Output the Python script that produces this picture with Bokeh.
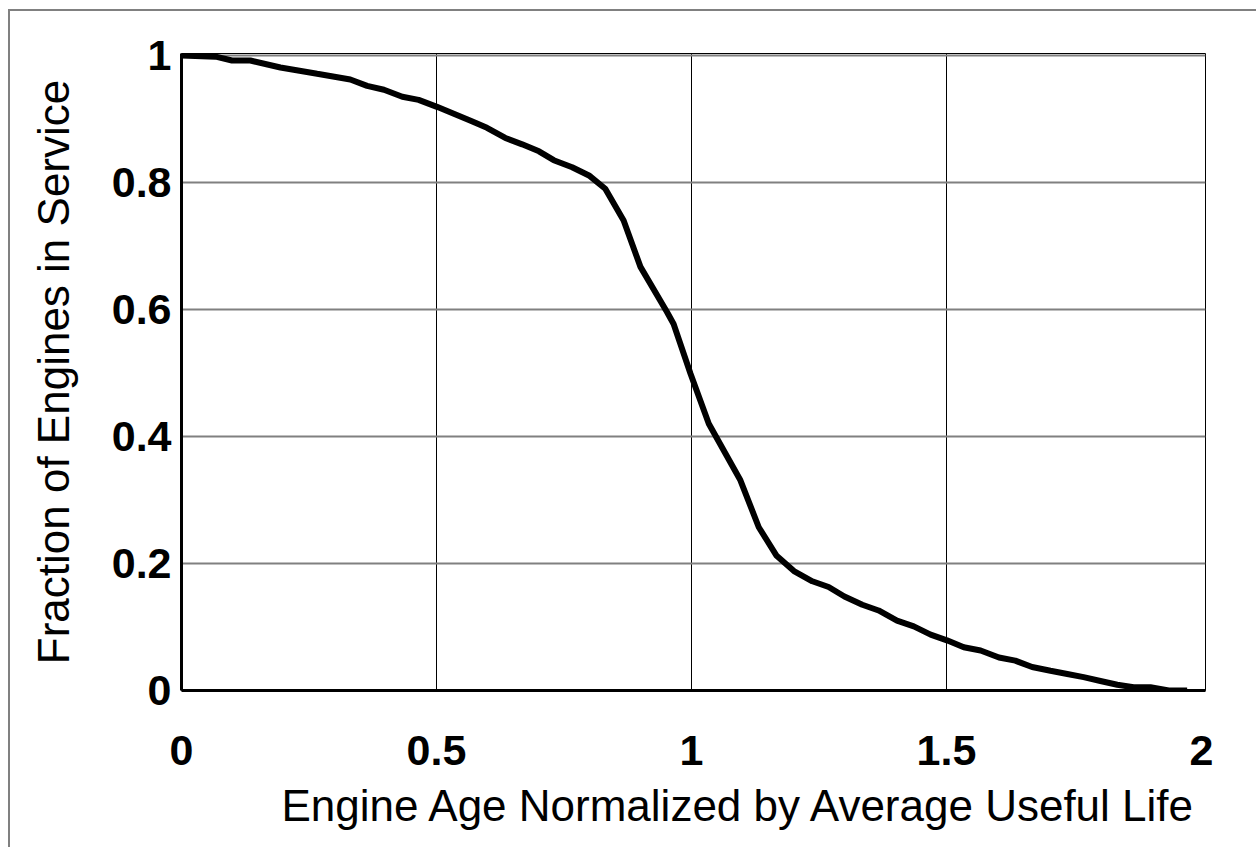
from bokeh.plotting import figure
from bokeh.models import Range1d, FixedTicker, Title
from bokeh.embed import file_html
from bokeh.resources import INLINE

# ---- data ----
age = [0.0, 0.067, 0.099, 0.135, 0.194, 0.266, 0.331, 0.364, 0.397, 0.433,
       0.465, 0.501, 0.534, 0.567, 0.599, 0.635, 0.668, 0.701, 0.730, 0.766,
       0.799, 0.831, 0.867, 0.900, 0.952, 0.965, 0.998, 1.034, 1.096, 1.132,
       1.167, 1.201, 1.237, 1.269, 1.300, 1.335, 1.367, 1.403, 1.436, 1.469,
       1.501, 1.534, 1.567, 1.603, 1.635, 1.668, 1.704, 1.737, 1.769, 1.802,
       1.835, 1.867, 1.900, 1.936, 1.972]
fraction = [1.0, 0.998, 0.992, 0.992, 0.981, 0.971, 0.962, 0.952, 0.946, 0.935,
            0.930, 0.919, 0.908, 0.897, 0.886, 0.870, 0.860, 0.849, 0.835, 0.824,
            0.811, 0.790, 0.740, 0.667, 0.596, 0.577, 0.499, 0.420, 0.331, 0.257,
            0.212, 0.188, 0.172, 0.163, 0.148, 0.135, 0.126, 0.110, 0.101, 0.088,
            0.079, 0.068, 0.063, 0.052, 0.047, 0.037, 0.031, 0.026, 0.021, 0.015,
            0.009, 0.005, 0.005, 0.0, 0.0]

x_ticks = [0, 0.5, 1, 1.5, 2]
x_tick_labels = ["0", "0.5", "1", "1.5", "2"]
y_ticks = [0, 0.2, 0.4, 0.6, 0.8, 1.0]
y_tick_labels = ["0", "0.2", "0.4", "0.6", "0.8", "1"]

x_title = "Engine Age Normalized by Average Useful Life"
y_title = "Fraction of Engines in Service"

FONT = "Liberation Sans"

p = figure(width=1248, height=838, output_backend="svg", toolbar_location=None,
           x_range=Range1d(0, 2.008), y_range=Range1d(0, 1.003),
           min_border_left=171, min_border_right=53, min_border_top=42,
           min_border_bottom=159)
p.styles = {"border-top": "2px solid #808080", "border-left": "2px solid #808080",
            "margin-left": "8px", "margin-top": "9px"}

p.background_fill_color = "white"
p.border_fill_color = "white"
p.outline_line_color = "black"
p.outline_line_width = 1

p.line(age, fraction, line_color="black", line_width=6)

# axes
for ax in (p.xaxis[0], p.yaxis[0]):
    ax.major_tick_out = 0
    ax.major_tick_in = 0
    ax.minor_tick_out = 0
    ax.minor_tick_in = 0
    ax.axis_line_color = "black"
    ax.axis_line_width = 3
    ax.major_label_text_font = FONT
    ax.major_label_text_font_style = "bold"
    ax.major_label_text_font_size = "43px"
    ax.major_label_text_color = "black"

p.xaxis.ticker = FixedTicker(ticks=x_ticks)
p.xaxis.major_label_overrides = {t: l for t, l in zip(x_ticks, x_tick_labels)}
p.xaxis.major_label_standoff = 45

p.yaxis.ticker = FixedTicker(ticks=y_ticks)
p.yaxis.major_label_overrides = {t: l for t, l in zip(y_ticks, y_tick_labels)}
p.yaxis.major_label_standoff = 10
p.yaxis.axis_label = y_title
p.yaxis.axis_label_text_font = FONT
p.yaxis.axis_label_text_font_style = "normal"
p.yaxis.axis_label_text_font_size = "44px"
p.yaxis.axis_label_text_color = "black"
p.yaxis.axis_label_standoff = 31

xt = Title(text=x_title, align="left", offset=100,
           text_font=FONT, text_font_style="normal",
           text_font_size="44px", text_color="black", standoff=22)
p.add_layout(xt, "below")

# grids
p.xgrid.ticker = FixedTicker(ticks=[0.5, 1.0, 1.5])
p.xgrid.grid_line_color = "black"
p.xgrid.grid_line_width = 1
p.ygrid.ticker = FixedTicker(ticks=[0.2, 0.4, 0.6, 0.8, 1.0])
p.ygrid.grid_line_color = "#808080"
p.ygrid.grid_line_width = 2

open("out.html", "w").write(file_html(p, INLINE))
